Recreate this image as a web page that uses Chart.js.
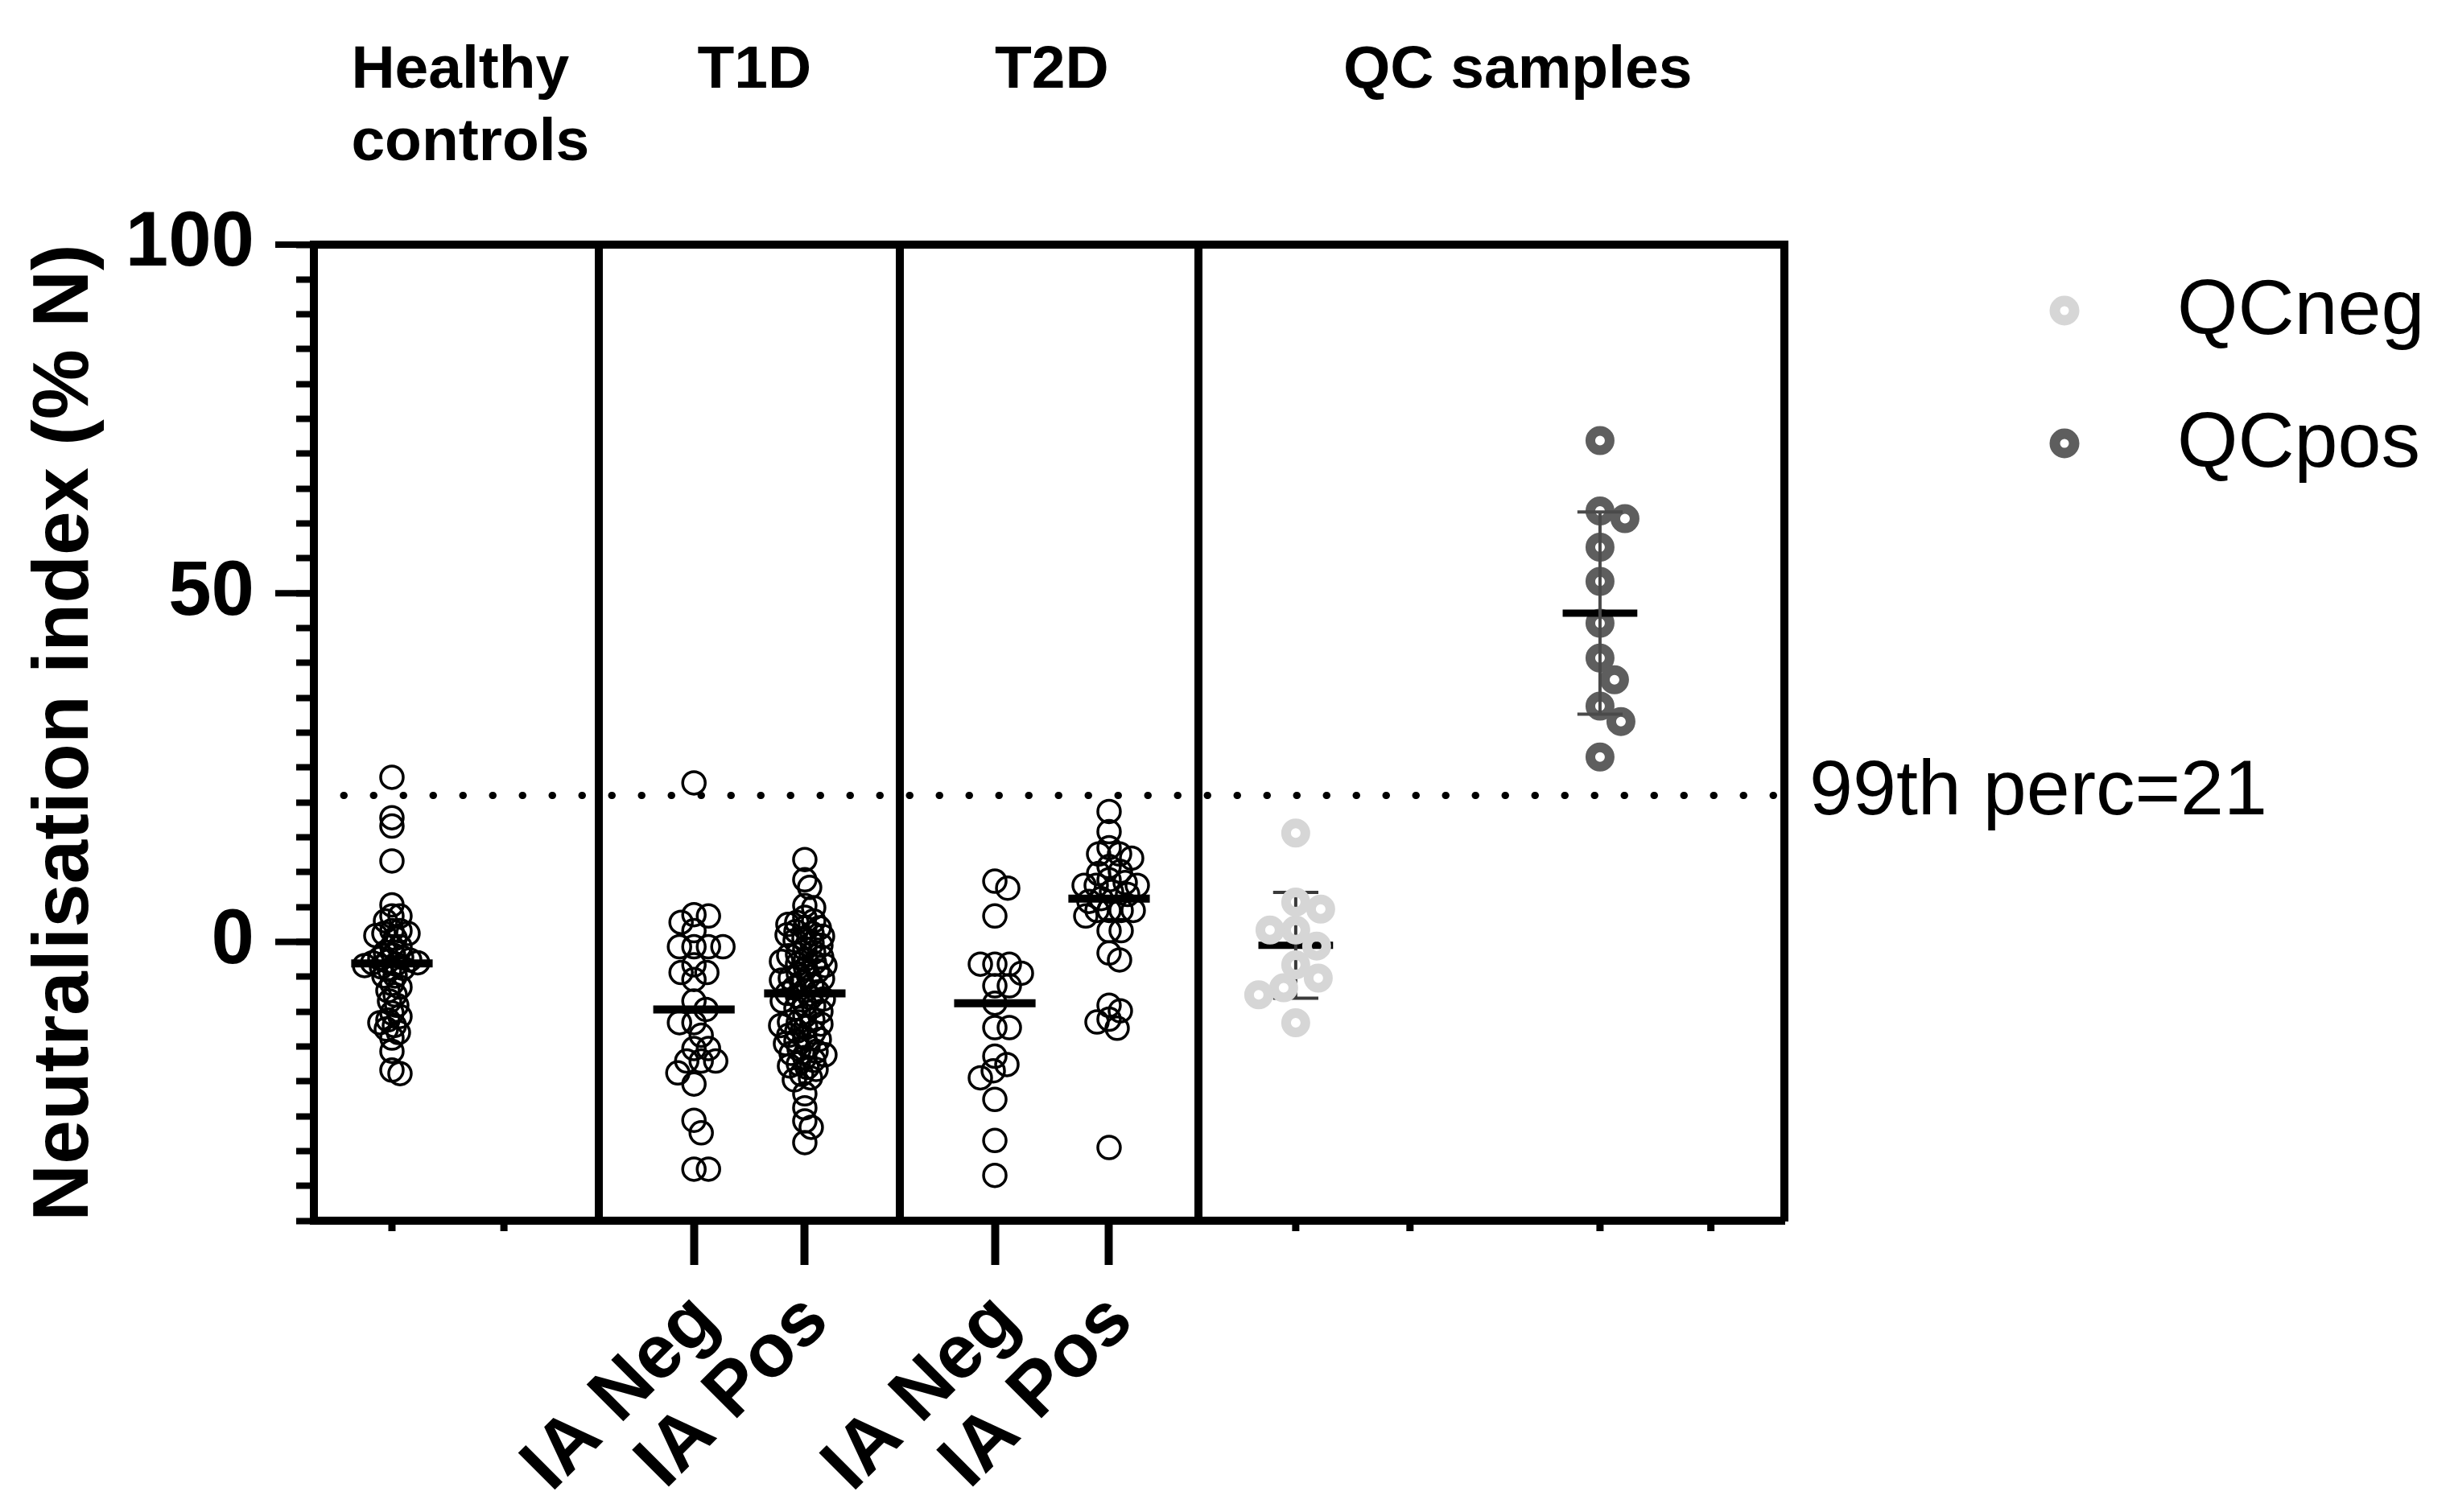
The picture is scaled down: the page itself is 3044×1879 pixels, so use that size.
<!DOCTYPE html>
<html>
<head>
<meta charset="utf-8">
<title>Neutralisation index</title>
<script src="https://cdn.jsdelivr.net/npm/chart.js@4.4.1/dist/chart.umd.min.js"></script>
<style>
    html, body { margin: 0; padding: 0; background: #fff; overflow: hidden; }
    canvas { display: block; }
</style>
</head>
<body>
<canvas id="chart" width="3044" height="1879"></canvas>
<script>
// Values (% N)
const healthyValues = [23.6, 17.8, 16.6, 11.6, 5.3, 3.7, 3.7, 3.0, 1.6, 1.6, 1.2, 1.2, 0.9, 0.5, -0.7, -0.7,
    -1.5, -1.9, -2.2, -2.4, -2.6, -2.8, -3.0, -3.0, -3.2, -3.4, -3.6, -3.8, -4.0, -4.9, -4.9, -6.0, -6.5,
    -7.0, -7.6, -8.5, -9.1, -10.2, -10.7, -11.2, -11.6, -12.0, -12.5, -13.0, -13.8, -15.7, -18.4, -18.9];
const t1dNegValues = [22.8, 3.9, 3.7, 2.8, 1.6, -0.7, -0.7, -0.7, -0.7, -3.3, -4.4, -4.4, -5.4, -8.5, -9.7,
    -11.6, -11.6, -13.4, -15.3, -15.3, -17.1, -17.1, -17.1, -18.8, -20.4, -25.6, -27.4, -32.6, -32.6];
const t1dPosValues = [11.8, 8.9, 7.8, 5.2, 4.9, 3.5, 3.0, 2.8, 2.5, 2.0, 2.0, 1.5, 1.2, 1.0, 0.8, 0.5, 0.2,
    -0.2, -0.5, -1.0, -1.5, -1.8, -2.0, -2.2, -2.5, -2.8, -3.0, -3.2, -3.4, -3.8, -4.2, -4.6, -5.0, -5.2,
    -5.3, -5.5, -5.8, -6.2, -6.6, -7.0, -7.2, -7.4, -7.8, -8.0, -8.2, -8.5, -9.0, -9.2, -9.5, -10.0, -10.6,
    -11.2, -11.5, -11.5, -11.8, -12.0, -12.3, -12.8, -13.0, -13.4, -13.8, -14.0, -14.2, -14.6, -15.0, -15.4,
    -15.7, -16.0, -16.2, -16.6, -17.0, -17.5, -17.8, -18.0, -18.3, -19.0, -19.5, -19.8, -21.8, -23.8, -25.7,
    -26.6, -28.8];
const t2dNegValues = [8.7, 7.7, 3.7, -3.2, -3.2, -3.2, -4.5, -6.3, -6.3, -8.8, -12.3, -12.3, -16.4, -17.6,
    -18.5, -19.5, -22.6, -28.5, -33.5];
const t2dPosValues = [18.7, 15.8, 13.5, 12.6, 12.6, 12.0, 10.8, 10.1, 9.8, 8.9, 8.5, 8.1, 8.1, 8.1, 7.2, 6.8,
    6.2, 5.8, 4.5, 4.5, 4.5, 4.5, 3.7, 1.6, 1.6, -1.6, -2.6, -9.1, -9.9, -11.1, -11.5, -12.4, -29.5];
const qcNegValues = [15.6, 5.7, 4.7, 1.7, 1.7, -0.6, -3.3, -5.2, -6.6, -7.6, -11.6];
const qcPosValues = [71.9, 61.8, 60.7, 56.6, 51.7, 45.7, 40.7, 37.6, 33.8, 31.6, 26.5];

const xTickText = ['', '', 'IA Neg', 'IA Pos', 'IA Neg', 'IA Pos', '', '', '', ''];
const yTickLabels = [0, 50, 100];
const headerLabels = [['Healthy', 'controls'], ['T1D'], ['T2D'], ['QC samples']];
const legendLabels = ['QCneg', 'QCpos'];
const yTitle = 'Neutralisation index (% N)';
const threshold = 21;
const thresholdLabel = '99th perc=21';

// Layout on the x scale (column centres, dividers, header anchors)
const xTickPositions = [0.69, 1.68, 3.36, 4.34, 6.02, 7.03, 8.68, 9.69, 11.37, 12.35];
const groupCentres = [0.69, 3.36, 4.34, 6.02, 7.03];
const groupGaps = [10, 18, 11, 18, 15];
const qcCentres = [8.68, 11.37];
const dividerX = [2.52, 5.18, 7.82];
const headerX = [0.33, 3.39, 6.02, 9.10];

const FONT = "'Liberation Sans', Arial, sans-serif";
const qcColors = ['#d6d6d6', '#5e5e5e'];
const medianHalf = 0.36;
const capHalf = 0.2;

Chart.defaults.font.family = FONT;
Chart.defaults.color = '#000';

function median(values) {
    const s = [...values].sort((a, b) => a - b);
    const m = Math.floor(s.length / 2);
    return s.length % 2 ? s[m] : (s[m - 1] + s[m]) / 2;
}

function mean(values) {
    return values.reduce((a, b) => a + b, 0) / values.length;
}

function sd(values) {
    const m = mean(values);
    return Math.sqrt(values.reduce((a, v) => a + (v - m) ** 2, 0) / (values.length - 1));
}

function pointSet(label, values, centre, color, radius, width, gap) {
    return {
        type: 'scatter',
        label: label,
        data: values.map(v => ({ x: centre, y: v })),
        pointStyle: 'circle',
        pointRadius: radius,
        pointBorderWidth: width,
        pointBorderColor: color,
        pointBackgroundColor: 'rgba(0,0,0,0)',
        order: 3,
        centre: centre,
        gap: gap
    };
}

function medianLine(values, centre) {
    const m = median(values);
    return {
        type: 'line',
        data: [{ x: centre - medianHalf, y: m }, { x: centre + medianHalf, y: m }],
        borderColor: '#000',
        borderWidth: 10,
        pointRadius: 0,
        order: 1
    };
}

function sdBars(values, centre, color, order) {
    const m = mean(values);
    const s = sd(values);
    return [{
        type: 'line',
        data: [
            { x: centre - capHalf, y: m + s }, { x: centre + capHalf, y: m + s }, { x: centre, y: null },
            { x: centre, y: m + s }, { x: centre, y: m - s }, { x: centre, y: null },
            { x: centre - capHalf, y: m - s }, { x: centre + capHalf, y: m - s }
        ],
        borderColor: color,
        borderWidth: 4,
        pointRadius: 0,
        spanGaps: false,
        order: order
    }, {
        type: 'line',
        data: [{ x: centre - 0.33, y: m }, { x: centre + 0.33, y: m }],
        borderColor: '#000',
        borderWidth: 9,
        pointRadius: 0,
        order: order
    }];
}

const groupValues = [healthyValues, t1dNegValues, t1dPosValues, t2dNegValues, t2dPosValues];

const datasets = [];
groupValues.forEach((values, i) => {
    datasets.push(pointSet('group' + i, values, groupCentres[i], '#000', 14, 3.5, groupGaps[i]));
    datasets.push(medianLine(values, groupCentres[i]));
});
datasets.push(pointSet(legendLabels[0], qcNegValues, qcCentres[0], qcColors[0], 12, 12, 32));
datasets.push(pointSet(legendLabels[1], qcPosValues, qcCentres[1], qcColors[1], 12, 12, 32));
datasets.push(...sdBars(qcNegValues, qcCentres[0], '#3a3a3a', 4));
datasets.push(...sdBars(qcPosValues, qcCentres[1], '#4a4a4a', 1));

// Dotted 99th percentile line across the plot
datasets.push({
    type: 'line',
    data: [{ x: 0, y: threshold }, { x: 13, y: threshold }],
    borderColor: '#000',
    borderWidth: 9,
    borderDash: [0.5, 36.5],
    borderCapStyle: 'round',
    pointRadius: 0,
    order: 2
});

// Headings, legend, threshold label and the longer/shorter tick marks
const decorations = {
    id: 'decorations',
    afterDraw(chart) {
        const { ctx, chartArea, scales: { x, y } } = chart;
        ctx.save();
        ctx.strokeStyle = '#000';

        ctx.lineWidth = 8;
        yTickLabels.forEach(v => {
            const py = y.getPixelForValue(v);
            ctx.beginPath();
            ctx.moveTo(chartArea.left - 48, py);
            ctx.lineTo(chartArea.left, py);
            ctx.stroke();
        });

        ctx.lineWidth = 9;
        xTickPositions.forEach((v, i) => {
            if (xTickText[i]) return;
            const px = x.getPixelForValue(v);
            ctx.beginPath();
            ctx.moveTo(px, chartArea.bottom);
            ctx.lineTo(px, chartArea.bottom + 13);
            ctx.stroke();
        });

        ctx.fillStyle = '#000';
        ctx.textAlign = 'left';
        ctx.textBaseline = 'alphabetic';
        ctx.font = 'bold 75px ' + FONT;
        headerLabels.forEach((lines, i) => {
            lines.forEach((line, j) => {
                ctx.fillText(line, x.getPixelForValue(headerX[i]), 109 + j * 90);
            });
        });

        ctx.font = '97px ' + FONT;
        ctx.textBaseline = 'middle';
        ctx.fillText(thresholdLabel, chartArea.right + 31, y.getPixelForValue(threshold) - 3);

        const lx = chartArea.right + 348;
        legendLabels.forEach((label, i) => {
            const cy = 386 + i * 165;
            ctx.beginPath();
            ctx.arc(lx, cy, 12, 0, Math.PI * 2);
            ctx.lineWidth = 13;
            ctx.strokeStyle = qcColors[i];
            ctx.stroke();
            ctx.fillText(label, lx + 140, cy + 2);
        });
        ctx.restore();
    }
};

const chart = new Chart(document.getElementById('chart'), {
    type: 'scatter',
    data: { datasets: datasets },
    options: {
        responsive: false,
        animation: false,
        devicePixelRatio: 1,
        events: [],
        layout: { padding: { top: 304, right: 827, bottom: 0, left: 0 } },
        plugins: {
            legend: { display: false },
            tooltip: { enabled: false }
        },
        scales: {
            x: {
                type: 'linear',
                position: 'bottom',
                min: 0,
                max: 13,
                afterBuildTicks: scale => { scale.ticks = xTickPositions.map(v => ({ value: v })); },
                afterFit: scale => { scale.height = 362; },
                grid: {
                    drawOnChartArea: false,
                    tickLength: 55,
                    tickWidth: 10,
                    tickColor: ctx => (xTickText[ctx.index] ? '#000' : 'rgba(0,0,0,0)')
                },
                border: { color: '#000', width: 10 },
                ticks: {
                    autoSkip: false,
                    minRotation: 45,
                    maxRotation: 45,
                    padding: 15,
                    labelOffset: 15,
                    color: '#000',
                    font: { size: 94, weight: 'bold' },
                    callback: (value, index) => xTickText[index]
                }
            },
            x2: {
                type: 'linear',
                position: 'top',
                min: 0,
                max: 13,
                afterBuildTicks: scale => { scale.ticks = dividerX.map(v => ({ value: v })); },
                afterFit: scale => { scale.height = 0; },
                ticks: { display: false },
                grid: { drawTicks: false, color: '#000', lineWidth: 10 },
                border: { color: '#000', width: 10 }
            },
            y: {
                type: 'linear',
                position: 'left',
                min: -40,
                max: 100,
                afterFit: scale => { scale.width = 390; },
                ticks: {
                    stepSize: 5,
                    autoSkip: false,
                    padding: 52,
                    color: '#000',
                    font: { size: 96, weight: 'bold' },
                    callback: v => (yTickLabels.includes(v) ? String(v) : '')
                },
                grid: { drawOnChartArea: false, tickLength: 22, tickWidth: 8, tickColor: '#000' },
                border: { color: '#000', width: 10 },
                title: {
                    display: true,
                    text: yTitle,
                    color: '#000',
                    font: { size: 98, weight: 'bold' },
                    padding: { top: 23, bottom: 0 }
                }
            },
            y2: {
                type: 'linear',
                position: 'right',
                min: -40,
                max: 100,
                afterFit: scale => { scale.width = 0; },
                ticks: { display: false },
                grid: { drawOnChartArea: false, drawTicks: false },
                border: { color: '#000', width: 10 }
            }
        }
    },
    plugins: [decorations]
});

// Spread the dots sideways so they do not pile up (beeswarm, in pixels)
function spread(dataset) {
    const xs = chart.scales.x;
    const ys = chart.scales.y;
    const pxPerUnit = xs.getPixelForValue(1) - xs.getPixelForValue(0);
    const placed = [];
    const order = dataset.data.map((p, i) => i).sort((a, b) => dataset.data[b].y - dataset.data[a].y);
    order.forEach(i => {
        const py = ys.getPixelForValue(dataset.data[i].y);
        let off = 0;
        for (let k = 0; k < 800; k++) {
            const cand = k % 2 ? (k + 1) / 2 : -k / 2;
            if (placed.every(p => (p.x - cand) ** 2 + (p.y - py) ** 2 >= dataset.gap * dataset.gap)) {
                off = cand;
                break;
            }
        }
        placed.push({ x: off, y: py });
        dataset.data[i].x = dataset.centre + off / pxPerUnit;
    });
}

chart.data.datasets.forEach(ds => {
    if (ds.gap) spread(ds);
});
chart.update();
</script>
</body>
</html>
